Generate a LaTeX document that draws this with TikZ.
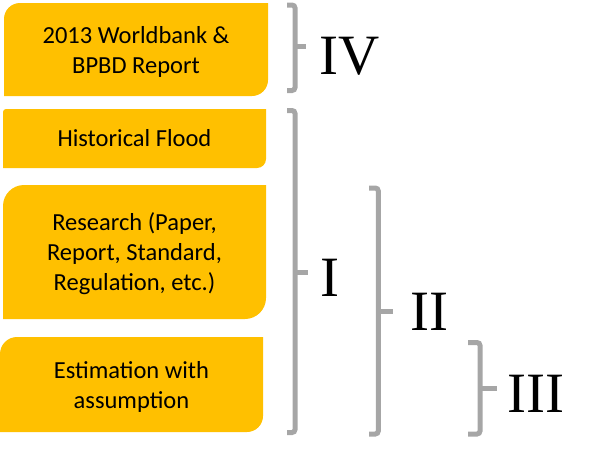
\documentclass[tikz,border=0pt]{standalone}
\usepackage{fontspec}
\setmainfont{Carlito}
\newfontfamily\romanfont{Liberation Serif}
\definecolor{boxyellow}{HTML}{FFC000}
\definecolor{bracketgray}{HTML}{A6A6A6}
\newcommand\yellowbox[6]{% x0 y0 x1 y1 rTL rBR
  \fill[boxyellow] ({#1},{#2+#5}) .. controls ({#1},{#2+0.448*#5}) and ({#1+0.448*#5},{#2}) .. ({#1+#5},{#2})
    -- ({#3},{#2}) -- ({#3},{#4-#6}) .. controls ({#3},{#4-0.448*#6}) and ({#3-0.448*#6},{#4}) .. ({#3-#6},{#4})
    -- ({#1},{#4}) -- cycle;}
\tikzset{
  boxtext/.style={anchor=base, align=center, inner sep=0pt, font=\fontsize{24.5}{30}\selectfont, text=black},
  numeral/.style={anchor=base west, inner sep=0pt, font=\romanfont\fontsize{57}{60}\selectfont, text=black},
  bracket/.style={draw=bracketgray, line width=5pt, rounded corners=3pt},
  tick/.style={draw=bracketgray, line width=4.5pt}
}
\begin{document}
\begin{tikzpicture}[x=1pt,y=-1pt]
\useasboundingbox (0,0) rectangle (600,461);
% boxes
\yellowbox{4}{3}{268}{96}{16}{16}
\yellowbox{3}{109}{266}{168}{3}{9}
\yellowbox{3}{185}{266}{319}{21}{21}
\yellowbox{0}{337}{263}{432}{17}{16}
% texts (base anchor = baseline of the last line)
\node[boxtext] (wb) at (136,73) {2013 Worldbank \&\\BPBD Report};
\node[boxtext] (hf) at (134.5,146.5) {Historical Flood};
\node[boxtext] (rs) at (134.5,290) {Research (Paper,\\Report, Standard,\\Regulation, etc.)};
\node[boxtext] (es) at (131.5,408) {Estimation with\\assumption};
% brackets
\coordinate (b4t) at (287,5);   \coordinate (b4b) at (287,90.5);
\coordinate (b1t) at (287,110.5); \coordinate (b1b) at (287,432.5);
\coordinate (b2t) at (369,188); \coordinate (b2b) at (369,434);
\coordinate (b3t) at (468,342.5); \coordinate (b3b) at (468,434);
\draw[bracket] (b4t) -- (295,5) -- (295,90.5) -- (b4b);
\draw[tick] (295,46.7) -- (306,46.7);
\draw[bracket] (b1t) -- (295,110.5) -- (295,432.5) -- (b1b);
\draw[tick] (295,272.7) -- (308,272.7);
\draw[bracket] (b2t) -- (378.3,188) -- (378.3,434) -- (b2b);
\draw[tick] (378.3,311.7) -- (392.7,311.7);
\draw[bracket] (b3t) -- (480,342.5) -- (480,434) -- (b3b);
\draw[tick] (480,388.3) -- (496.7,388.3);
% numerals
\node[numeral] (n4) at (319.7,74) {IV};
\node[numeral] (n1) at (320.7,296) {I};
\node[numeral] (n2) at (410.7,330) {II};
\node[numeral] (n3) at (507,412) {III};
\end{tikzpicture}
\end{document}
